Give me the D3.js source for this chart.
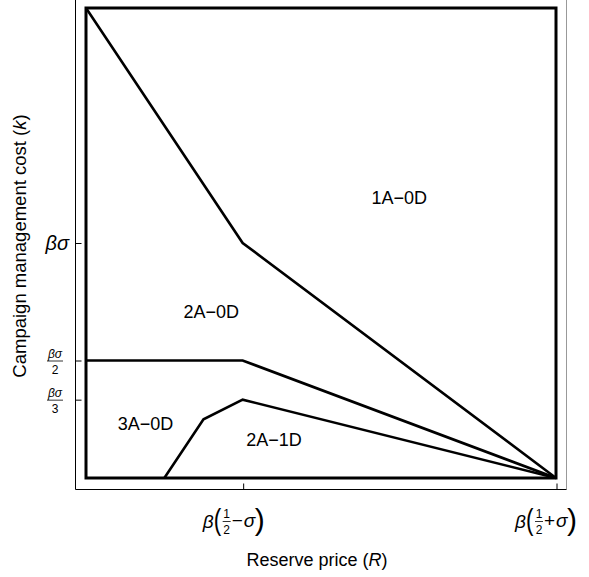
<!DOCTYPE html>
<html><head><meta charset="utf-8">
<script src="https://cdn.jsdelivr.net/npm/d3@7"></script>
<style>body{margin:0;background:#fff}svg{display:block}text{font-family:"Liberation Sans",Arial,sans-serif;fill:#000}</style>
</head><body><svg id="c" width="589" height="577"></svg>
<script>
// beta = 1, sigma = 0.25
const beta = 1, sigma = 0.25;
const xDomain = [0, beta*(0.5+sigma)];
const yDomain = [0, 0.5];
// boundary curves (x = R, y = k)
const boundary1 = [[0, 0.5], [0.25, 0.25], [0.75, 0]];          // 1A-0D / 2A-0D
const boundary2 = [[0, 0.125], [0.25, 0.125], [0.75, 0]];       // 2A-0D / lower
const boundary3 = [[0.125, 0], [0.1875, 0.0625], [0.25, 1/12], [0.75, 0]]; // 3A-0D / 2A-1D
const regionLabels = [
  {text: "1A\u22120D", x: 0.50, y: 0.298},
  {text: "2A\u22120D", x: 0.20, y: 0.177},
  {text: "3A\u22120D", x: 0.095, y: 0.057},
  {text: "2A\u22121D", x: 0.30, y: 0.04}
];
const xTicks = [0.25, 0.75];
const yTicks = [0.25, 0.125, 1/12];

const svg = d3.select("#c");
const x = d3.scaleLinear().domain(xDomain).range([86, 556]);
const y = d3.scaleLinear().domain(yDomain).range([478, 8]);

// outer frame
svg.append("path").attr("d","M75.5,-2V489.5H566.5V-2").attr("fill","none").attr("stroke","#000").attr("stroke-width",1);
svg.append("line").attr("x1",566.5).attr("x2",566.5).attr("y1",-2).attr("y2",489.5).attr("stroke","#999").attr("stroke-width",1);

// ticks
const xa = svg.append("g").attr("transform","translate(0,489.5)")
  .call(d3.axisBottom(x).tickValues(xTicks).tickSize(-6).tickFormat(""));
xa.select(".domain").remove();
xa.selectAll("line").attr("stroke","#000").attr("transform","translate(0.5,0)");
const ya = svg.append("g").attr("transform","translate(75.5,0)")
  .call(d3.axisLeft(y).tickValues(yTicks).tickSize(-6).tickFormat(""));
ya.select(".domain").remove();
ya.selectAll("line").attr("stroke","#000");

// box
svg.append("rect").attr("x",x(0)).attr("y",y(0.5)).attr("width",x(0.75)-x(0)).attr("height",y(0)-y(0.5))
  .attr("fill","none").attr("stroke","#000").attr("stroke-width",3);

const line = d3.line().x(d=>x(d[0])).y(d=>y(d[1]));
[boundary1, boundary2, boundary3].forEach(b=>{
  svg.append("path").attr("d",line(b)).attr("fill","none").attr("stroke","#000")
    .attr("stroke-width",2.6).attr("stroke-linejoin","miter");
});

regionLabels.forEach(l=>{
  svg.append("text").attr("x",x(l.x)).attr("y",y(l.y)).attr("text-anchor","middle")
    .attr("dominant-baseline","central").attr("font-size",18).text(l.text);
});

// y tick labels
const yl = svg.append("g");
yl.append("text").attr("x",69).attr("y",y(0.25)+7).attr("text-anchor","end")
  .attr("font-size",20).attr("font-style","italic").text("\u03b2\u03c3");
[[0.125,"2"],[1/12,"3"]].forEach(([v,d])=>{
  const yy = y(v);
  yl.append("text").attr("x",55).attr("y",yy-3).attr("text-anchor","middle")
    .attr("font-size",12).attr("font-style","italic").text("\u03b2\u03c3");
  yl.append("line").attr("x1",47).attr("x2",63).attr("y1",yy+0.5).attr("y2",yy+0.5).attr("stroke","#000").attr("stroke-width",0.8);
  yl.append("text").attr("x",55).attr("y",yy+13).attr("text-anchor","middle")
    .attr("font-size",12).text(d);
});

// x tick labels
function xLabel(cx, sign){
  const g = svg.append("g").attr("transform",`translate(${cx},521)`);
  g.append("text").attr("x",-40).attr("y",7).attr("font-size",19).attr("font-style","italic").text("\u03b2");
  g.append("text").attr("x",-29).attr("y",9).attr("font-size",30).attr("transform","scale(0.75,1)").attr("transform-origin","-29 0").text("(");
  g.append("text").attr("x",-16).attr("y",-3).attr("text-anchor","middle").attr("font-size",12).text("1");
  g.append("line").attr("x1",-20).attr("x2",-12).attr("y1",0.5).attr("y2",0.5).attr("stroke","#000").attr("stroke-width",0.8);
  g.append("text").attr("x",-16).attr("y",13).attr("text-anchor","middle").attr("font-size",12).text("2");
  g.append("text").attr("x",-11).attr("y",6).attr("font-size",19).text(sign);
  g.append("text").attr("x",1).attr("y",6).attr("font-size",19).attr("font-style","italic").text("\u03c3");
  g.append("text").attr("x",12).attr("y",9).attr("font-size",30).text(")");
}
xLabel(x(0.25), "\u2212");
xLabel(x(0.75)-1, "+");

// axis titles
const xt = svg.append("text").attr("x",317).attr("y",566).attr("text-anchor","middle").attr("font-size",18);
xt.append("tspan").text("Reserve price (");
xt.append("tspan").attr("font-style","italic").text("R");
xt.append("tspan").text(")");
const yt = svg.append("text").attr("transform","translate(26,246) rotate(-90)").attr("text-anchor","middle").attr("font-size",18.5);
yt.append("tspan").text("Campaign management cost (");
yt.append("tspan").attr("font-style","italic").text("k");
yt.append("tspan").text(")");
</script></body></html>
